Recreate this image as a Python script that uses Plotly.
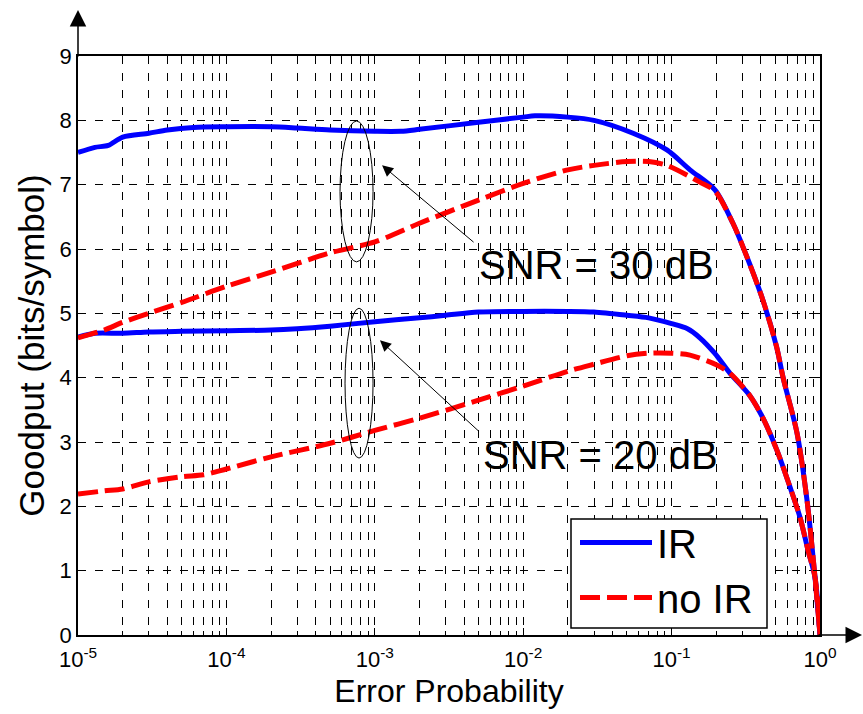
import plotly.graph_objects as go

# ---------------- data ----------------
x_ir30 = [1e-5, 1.3e-5, 1.6e-5, 2e-5, 3e-5, 4e-5, 6e-5, 1e-4, 2e-4, 3e-4, 5e-4, 1e-3, 1.5e-3, 2e-3,
          5e-3, 1e-2, 1.2e-2, 2e-2, 3e-2, 5.5e-2, 9.3e-2, 0.133, 0.196, 0.259, 0.303, 0.413, 0.51,
          0.564, 0.70, 0.817, 0.925, 1.0]
y_ir30 = [7.5, 7.58, 7.61, 7.74, 7.8, 7.85, 7.89, 7.9, 7.9, 7.88, 7.85, 7.83, 7.83, 7.86,
          7.97, 8.05, 8.07, 8.05, 8.0, 7.8, 7.54, 7.23, 6.92, 6.4, 6.03, 5.2, 4.48,
          4.0, 3.14, 2.1, 0.9, 0.0]

x_noir30 = [1e-5, 1.5e-5, 2e-5, 3e-5, 5e-5, 1e-4, 2e-4, 5e-4, 1e-3, 2e-3, 5e-3, 1e-2, 2e-2, 3e-2,
            5e-2, 7e-2, 0.093, 0.155, 0.196, 0.259, 0.303, 0.413, 0.51, 0.564, 0.70, 0.817, 0.925,
            1.0]
y_noir30 = [4.62, 4.74, 4.86, 5.0, 5.17, 5.42, 5.64, 5.94, 6.11, 6.4, 6.76, 7.02, 7.23, 7.3,
            7.36, 7.36, 7.3, 7.04, 6.9, 6.4, 6.03, 5.2, 4.48, 4.0, 3.14, 2.1, 0.9,
            0.0]

x_ir20 = [1e-5, 1.3e-5, 2e-5, 3e-5, 5e-5, 1e-4, 2e-4, 3e-4, 5e-4, 1e-3, 2e-3, 3e-3, 5e-3, 1e-2,
          2e-2, 3e-2, 5e-2, 7e-2, 0.1, 0.128, 0.155, 0.195, 0.247, 0.337, 0.413, 0.513, 0.628,
          0.733, 0.83, 0.925, 1.0]
y_ir20 = [4.63, 4.69, 4.69, 4.71, 4.72, 4.73, 4.74, 4.76, 4.8, 4.87, 4.93, 4.97, 5.02, 5.03,
          5.03, 5.02, 4.97, 4.93, 4.84, 4.76, 4.62, 4.38, 4.07, 3.72, 3.37, 2.87, 2.3,
          1.83, 1.32, 0.9, 0.0]

x_noir20 = [1e-5, 1.5e-5, 2e-5, 3e-5, 5e-5, 7e-5, 1e-4, 2e-4, 5e-4, 1e-3, 2e-3, 5e-3, 1e-2, 2e-2,
            3e-2, 5e-2, 7e-2, 0.1, 0.133, 0.2, 0.247, 0.337, 0.413, 0.513, 0.628, 0.733, 0.83,
            0.925, 1.0]
y_noir20 = [2.19, 2.24, 2.27, 2.38, 2.46, 2.49, 2.58, 2.77, 2.98, 3.18, 3.37, 3.65, 3.87, 4.1,
            4.21, 4.34, 4.38, 4.38, 4.35, 4.2, 4.07, 3.72, 3.37, 2.87, 2.3, 1.83, 1.32,
            0.9, 0.0]

x_tickvals = [1e-5, 1e-4, 1e-3, 1e-2, 1e-1, 1e0]
x_ticktext = ["10<sup>-5</sup>", "10<sup>-4</sup>", "10<sup>-3</sup>", "10<sup>-2</sup>",
              "10<sup>-1</sup>", "10<sup>0</sup>"]
y_tickvals = list(range(0, 10))

FONT = "Liberation Sans, Arial, sans-serif"
BLUE = "#0000FF"
RED = "#FF0000"
GRIDDASH = "8px,9px"
LINE_SHAPE = dict(shape="spline", smoothing=0.8)

fig = go.Figure()
fig.add_trace(go.Scatter(x=x_ir30, y=y_ir30, mode="lines", name="IR",
                         line=dict(color=BLUE, width=5, **LINE_SHAPE), showlegend=True))
fig.add_trace(go.Scatter(x=x_ir20, y=y_ir20, mode="lines", name="IR",
                         line=dict(color=BLUE, width=5, **LINE_SHAPE), showlegend=False))
fig.add_trace(go.Scatter(x=x_noir30, y=y_noir30, mode="lines", name="no IR",
                         line=dict(color=RED, width=5, dash="20px,7px", **LINE_SHAPE),
                         showlegend=True))
fig.add_trace(go.Scatter(x=x_noir20, y=y_noir20, mode="lines", name="no IR",
                         line=dict(color=RED, width=5, dash="20px,7px", **LINE_SHAPE),
                         showlegend=False))

minor_vals = [k * 10 ** e for e in range(-5, 0) for k in range(2, 10)]

fig.update_xaxes(
    type="log", range=[-5, 0],
    tickmode="array", tickvals=x_tickvals, ticktext=x_ticktext,
    tickfont=dict(family=FONT, size=22, color="black"),
    ticklabelstandoff=4,
    ticks="inside", ticklen=7, tickcolor="black",
    showline=True, linecolor="black", linewidth=1.5, mirror="ticks",
    showgrid=True, gridcolor="black", gridwidth=1, griddash=GRIDDASH,
    minor=dict(tickmode="array", tickvals=minor_vals, ticks="inside", ticklen=4,
               tickcolor="black", showgrid=True, gridcolor="black", gridwidth=1,
               griddash=GRIDDASH),
    title=dict(text="Error Probability", font=dict(family=FONT, size=32, color="black"),
               standoff=8),
    zeroline=False,
)
fig.update_yaxes(
    range=[0, 9], tickmode="array", tickvals=y_tickvals,
    tickfont=dict(family=FONT, size=22, color="black"),
    ticks="inside", ticklen=7, tickcolor="black",
    showline=True, linecolor="black", linewidth=1.5, mirror="ticks",
    showgrid=True, gridcolor="black", gridwidth=1, griddash=GRIDDASH,
    title=dict(text="Goodput (bits/symbol)", font=dict(family=FONT, size=35, color="black"),
               standoff=4),
    zeroline=False,
)

# ellipses around curves
fig.add_shape(type="circle", xref="x", yref="y", x0=5.83e-4, x1=9.73e-4, y0=5.80, y1=7.99,
              line=dict(color="black", width=1))
fig.add_shape(type="circle", xref="x", yref="y", x0=6.3e-4, x1=9.73e-4, y0=2.75, y1=5.08,
              line=dict(color="black", width=1))
# legend box (drawn as a shape so its size matches the reference)
fig.add_shape(type="rect", xref="paper", yref="paper", layer="above",
              x0=(571 - 78) / 742, x1=(767 - 78) / 742,
              y0=(635 - 628) / 579, y1=(635 - 519) / 579,
              fillcolor="white", line=dict(color="black", width=1.5))

annotations = [
    # SNR labels
    dict(x=-1.503, y=5.75, xref="x", yref="y", text="SNR = 30 dB", showarrow=False,
         font=dict(family=FONT, size=40, color="black")),
    dict(x=-1.476, y=2.80, xref="x", yref="y", text="SNR = 20 dB", showarrow=False,
         font=dict(family=FONT, size=40, color="black")),
    # pointer arrows
    dict(x=-2.951, y=7.30, xref="x", yref="y", text="", showarrow=True, ax=93, ay=78,
         arrowhead=2, arrowsize=2.2, arrowwidth=1, arrowcolor="black"),
    dict(x=-2.965, y=4.58, xref="x", yref="y", text="", showarrow=True, ax=100, ay=92,
         arrowhead=2, arrowsize=2.2, arrowwidth=1, arrowcolor="black"),
    # axis arrows
    dict(x=0, y=1 + 46 / 579, xref="paper", yref="paper", text="", showarrow=True,
         ax=0, ay=48, arrowhead=2, arrowsize=2.2, arrowwidth=1.5, arrowcolor="black"),
    dict(x=1 + 43 / 742, y=0, xref="paper", yref="paper", text="", showarrow=True,
         ax=-46, ay=0, arrowhead=2, arrowsize=2.2, arrowwidth=1.5, arrowcolor="black"),
]
fig.update_layout(annotations=annotations)

fig.update_layout(
    width=863, height=714,
    margin=dict(l=78, r=43, t=56, b=79),
    paper_bgcolor="white", plot_bgcolor="white",
    font=dict(family=FONT, color="black"),
    legend=dict(x=(575 - 78) / 742, y=(635 - 510) / 579, xanchor="left", yanchor="top",
                bgcolor="rgba(0,0,0,0)", borderwidth=0,
                font=dict(family=FONT, size=40, color="black"),
                itemwidth=72, tracegroupgap=0),
)

fig.write_html("out.html")
